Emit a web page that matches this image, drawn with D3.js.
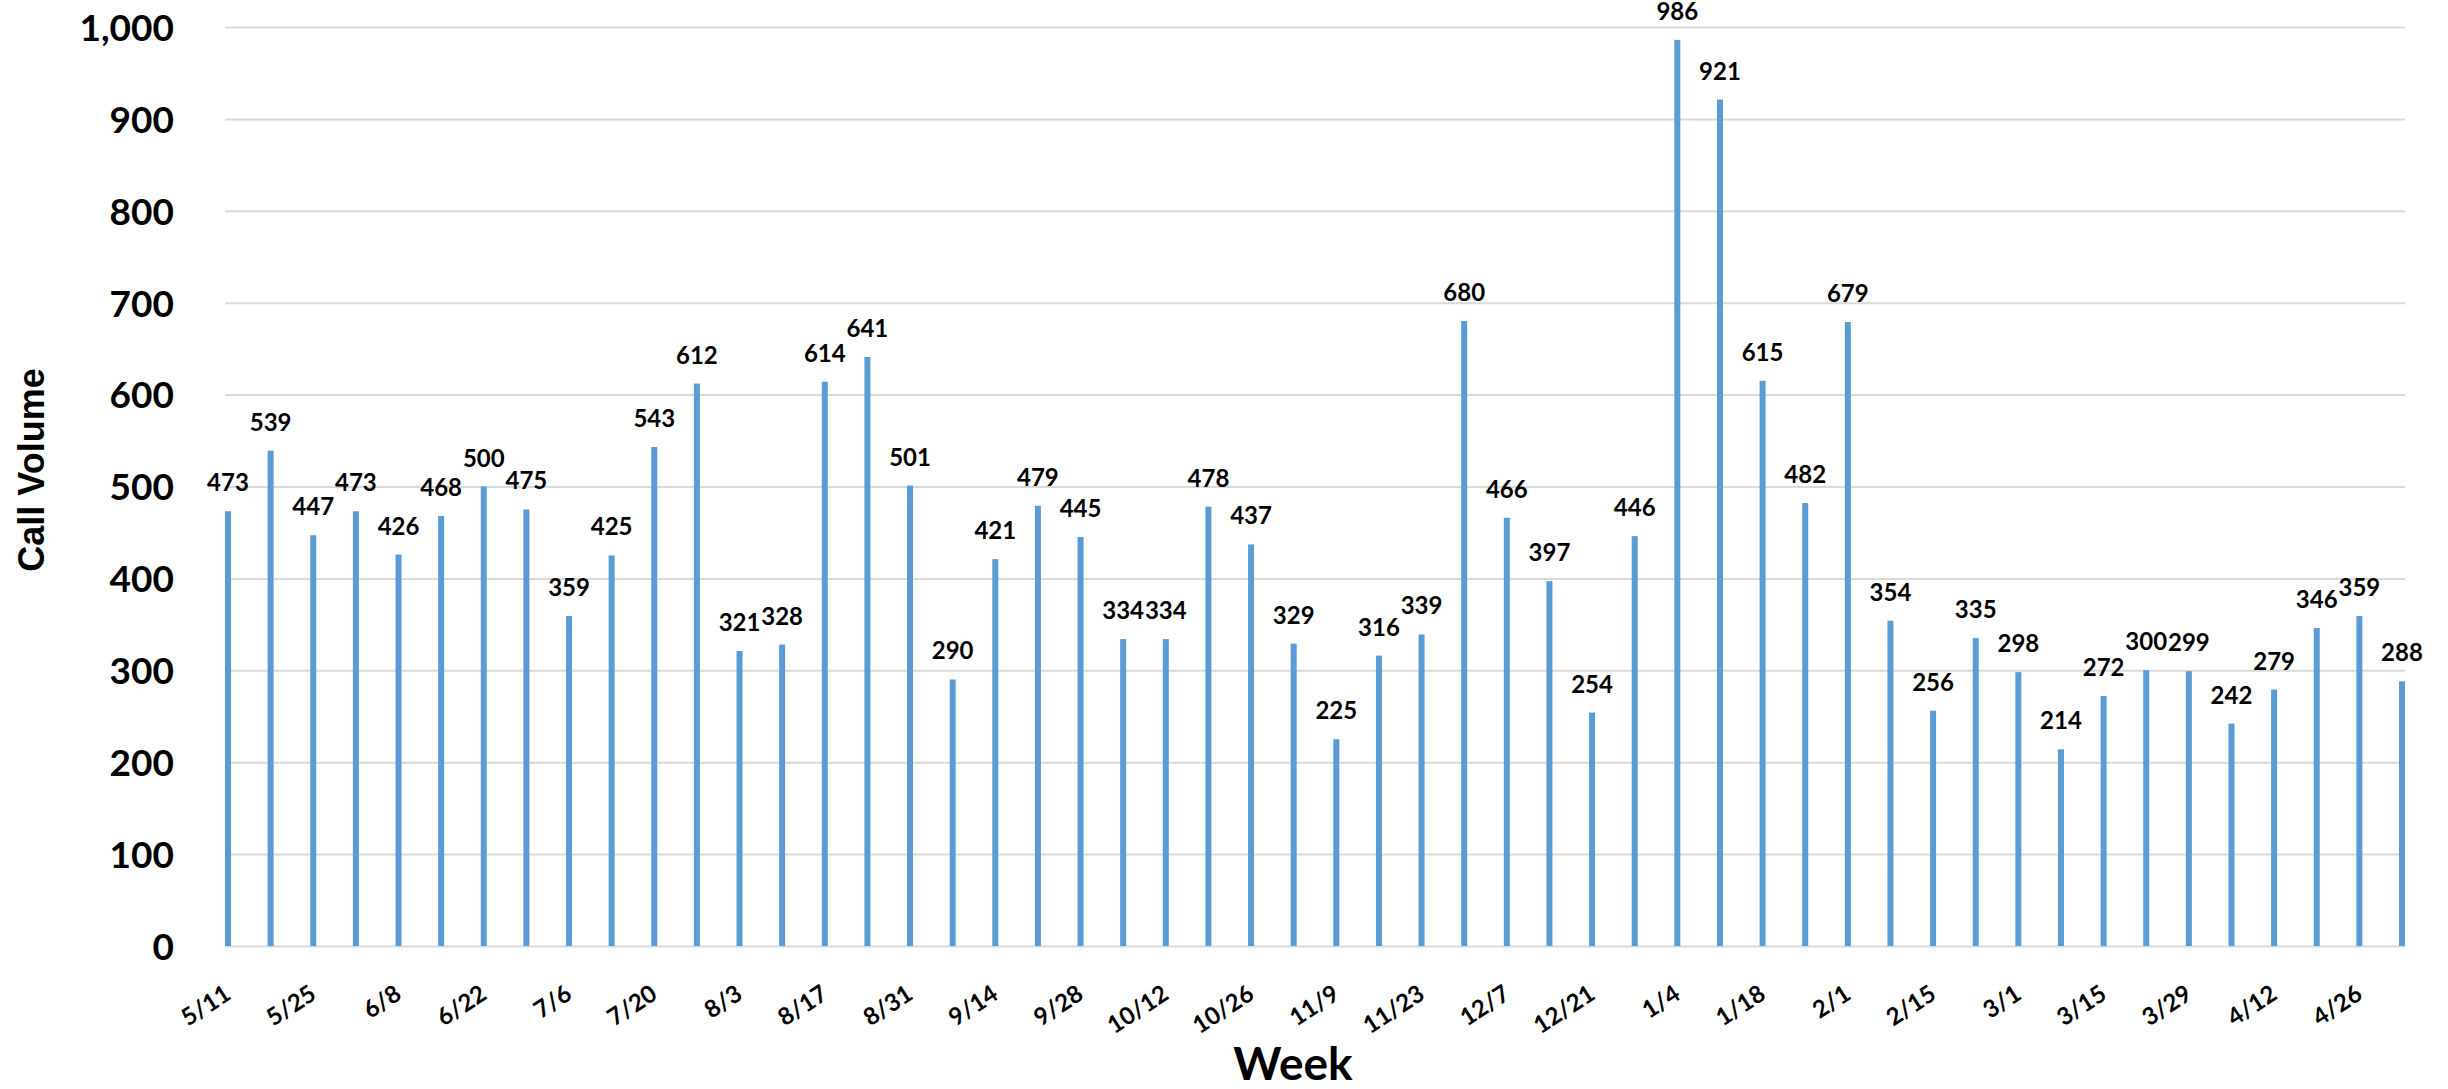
<!DOCTYPE html>
<html>
<head>
<meta charset="utf-8">
<script src="https://cdn.jsdelivr.net/npm/d3@7"></script>
<style>
html,body{margin:0;padding:0;background:#fff;}
svg{display:block;}
</style>
</head>
<body>
<svg id="chart" width="2448" height="1089"></svg>
<script>
const weeks = ["5/11","5/18","5/25","6/1","6/8","6/15","6/22","6/29","7/6","7/13","7/20","7/27","8/3","8/10","8/17","8/24","8/31","9/7","9/14","9/21","9/28","10/5","10/12","10/19","10/26","11/2","11/9","11/16","11/23","11/30","12/7","12/14","12/21","12/28","1/4","1/11","1/18","1/25","2/1","2/8","2/15","2/22","3/1","3/8","3/15","3/22","3/29","4/5","4/12","4/19","4/26","5/3"];
const callVolume = [473,539,447,473,426,468,500,475,359,425,543,612,321,328,614,641,501,290,421,479,445,334,334,478,437,329,225,316,339,680,466,397,254,446,986,921,615,482,679,354,256,335,298,214,272,300,299,242,279,346,359,288];
const yTicks = [0,100,200,300,400,500,600,700,800,900,1000];
const xTickLabels = weeks.filter((d,i) => i % 2 === 0);

const svg = d3.select("#chart");
const plotLeft = 225, plotRight = 2405, plotTop = 27, plotBottom = 946;
const barW = 6;

const x = d3.scalePoint().domain(weeks).range([plotLeft + barW/2, plotRight - barW/2]);
const y = d3.scaleLinear().domain([0, 1000]).range([plotBottom, plotTop]);

// gridlines + y axis
const yAxis = d3.axisLeft(y).tickValues(yTicks).tickSize(-(plotRight - plotLeft)).tickPadding(51).tickFormat(d3.format(","));
const gy = svg.append("g").attr("transform", `translate(${plotLeft},0)`).call(yAxis);
gy.select(".domain").remove();
gy.selectAll(".tick line").attr("stroke", "#d9d9d9").attr("stroke-width", 2);
gy.selectAll(".tick text")
  .attr("font-family", "Lato, 'Open Sans', sans-serif")
  .attr("font-weight", 700)
  .attr("font-size", 37)
  .attr("fill", "#000")
  .attr("dy", "0.36em");

// bars
svg.append("g").selectAll("rect").data(callVolume).join("rect")
  .attr("x", (d,i) => x(weeks[i]) - barW/2)
  .attr("width", barW)
  .attr("y", d => y(d))
  .attr("height", d => y(0) - y(d))
  .attr("fill", "#5b9bd5");

// data labels
svg.append("g").selectAll("text").data(callVolume).join("text")
  .attr("x", (d,i) => x(weeks[i]))
  .attr("y", d => y(d) - 20)
  .attr("text-anchor", "middle")
  .attr("font-family", "Lato, 'Open Sans', sans-serif")
  .attr("font-weight", 700)
  .attr("font-size", 24)
  .attr("fill", "#000")
  .text(d => d);

// x axis
const xAxis = d3.axisBottom(x).tickValues(xTickLabels).tickSize(0).tickPadding(0);
const gx = svg.append("g").attr("transform", `translate(0,${plotBottom})`).call(xAxis);
gx.select(".domain").remove();
gx.selectAll(".tick text")
  .attr("font-family", "Lato, 'Open Sans', sans-serif")
  .attr("font-weight", 700)
  .attr("font-size", 24)
  .attr("fill", "#000")
  .attr("text-anchor", "end")
  .attr("dy", null)
  .attr("y", null)
  .attr("transform", "translate(4,52) rotate(-33)");

// axis titles
svg.append("text")
  .attr("transform", "translate(44,470) rotate(-90)")
  .attr("text-anchor", "middle")
  .attr("font-family", "'Liberation Sans', Arial, sans-serif")
  .attr("font-weight", 700)
  .attr("font-size", 36)
  .attr("fill", "#000")
  .text("Call Volume");

svg.append("text")
  .attr("x", 1293)
  .attr("y", 1080)
  .attr("text-anchor", "middle")
  .attr("font-family", "Lato, 'Open Sans', sans-serif")
  .attr("font-weight", 700)
  .attr("font-size", 46)
  .attr("fill", "#000")
  .text("Week");
</script>
</body>
</html>
